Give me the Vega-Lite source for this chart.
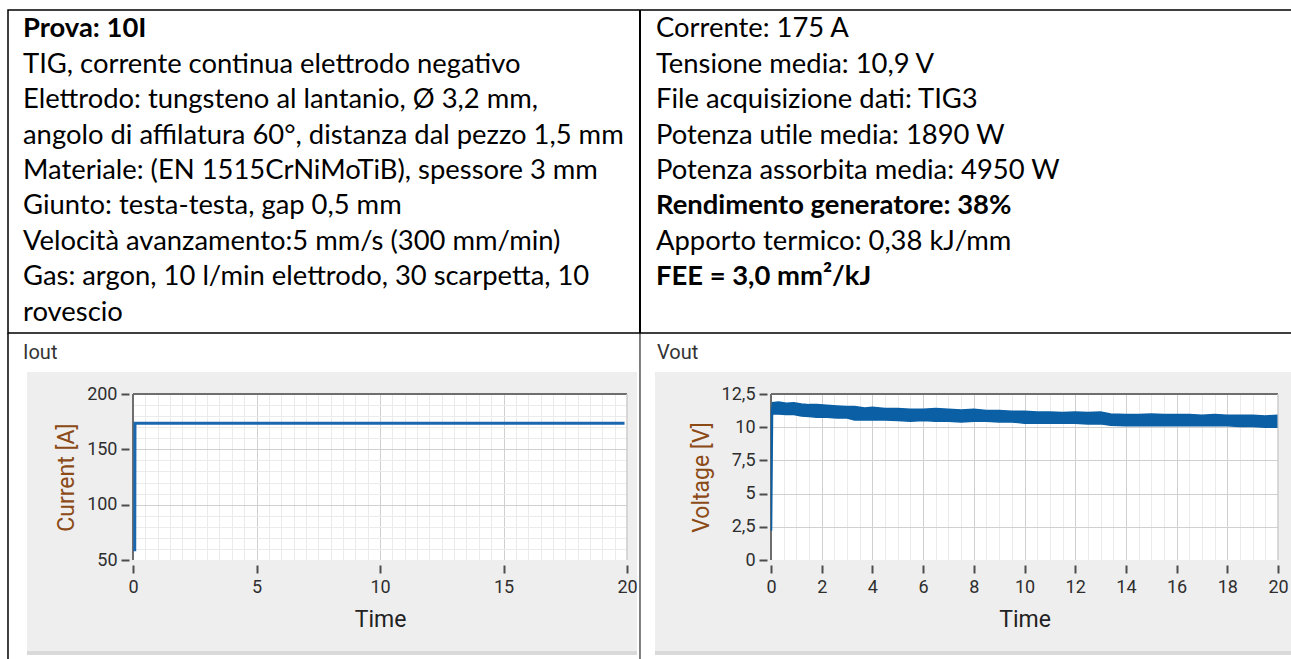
{
  "$schema": "https://vega.github.io/schema/vega-lite/v6.json",
  "autosize": {"type": "none"},
  "padding": {"left": 8, "top": 10, "right": 1283, "bottom": 649},
  "background": "#ffffff",
  "bounds": "flush",
  "spacing": 61,
  "config": {
    "view": {"stroke": null},
    "axis": {"labelFont": "Roboto", "titleFont": "Roboto", "labelColor": "#2e2e2e", "tickColor": "#4d4d4d"}
  },
  "vconcat": [
    {
      "width": 1285,
      "height": 323,
      "view": {"stroke": "#000000", "strokeWidth": 1.5},
      "data": {"values": [
        {"col": 0, "line": 0, "text": "Prova: 10I"},
        {"col": 0, "line": 1, "text": "TIG, corrente continua elettrodo negativo"},
        {"col": 0, "line": 2, "text": "Elettrodo: tungsteno al lantanio, Ø 3,2 mm,"},
        {"col": 0, "line": 3, "text": "angolo di affilatura 60°, distanza dal pezzo 1,5 mm"},
        {"col": 0, "line": 4, "text": "Materiale: (EN 1515CrNiMoTiB), spessore 3 mm"},
        {"col": 0, "line": 5, "text": "Giunto: testa-testa, gap 0,5 mm"},
        {"col": 0, "line": 6, "text": "Velocità avanzamento:5 mm/s (300 mm/min)"},
        {"col": 0, "line": 7, "text": "Gas: argon, 10 l/min elettrodo, 30 scarpetta, 10"},
        {"col": 0, "line": 8, "text": "rovescio"},
        {"col": 1, "line": 0, "text": "Corrente: 175 A"},
        {"col": 1, "line": 1, "text": "Tensione media: 10,9 V"},
        {"col": 1, "line": 2, "text": "File acquisizione dati: TIG3"},
        {"col": 1, "line": 3, "text": "Potenza utile media: 1890 W"},
        {"col": 1, "line": 4, "text": "Potenza assorbita media: 4950 W"},
        {"col": 1, "line": 5, "text": "Rendimento generatore: 38%"},
        {"col": 1, "line": 6, "text": "Apporto termico: 0,38 kJ/mm"},
        {"col": 1, "line": 7, "text": "FEE = 3,0 mm²/kJ"}
      ]},
      "layer": [
        {
          "transform": [{"filter": "!((datum.col == 0 && datum.line == 0) || (datum.col == 1 && (datum.line == 5 || datum.line == 7)))"}],
          "mark": {"type": "text", "align": "left", "baseline": "alphabetic", "font": "Lato", "fontSize": 27.4, "color": "#000000"},
          "encoding": {
            "x": {"field": "col", "type": "quantitative", "scale": {"domain": [0, 1], "range": [15, 648], "nice": false, "zero": false}, "axis": null},
            "y": {"field": "line", "type": "quantitative", "scale": {"domain": [-0.7712, 8.3531], "reverse": true, "nice": false, "zero": false}, "axis": null},
            "text": {"field": "text", "type": "nominal"}
          }
        },
        {
          "transform": [{"filter": "(datum.col == 0 && datum.line == 0) || (datum.col == 1 && (datum.line == 5 || datum.line == 7))"}],
          "mark": {"type": "text", "align": "left", "baseline": "alphabetic", "font": "Lato", "fontSize": 27.4, "fontWeight": "bold", "color": "#000000"},
          "encoding": {
            "x": {"field": "col", "type": "quantitative", "axis": null},
            "y": {"field": "line", "type": "quantitative", "axis": null},
            "text": {"field": "text", "type": "nominal"}
          }
        },
        {
          "data": {"values": [{}]},
          "mark": {"type": "rule", "color": "#000000", "strokeWidth": 2},
          "encoding": {
            "x": {"datum": 0.97472, "type": "quantitative", "axis": null},
            "y": {"datum": -0.7712, "type": "quantitative", "axis": null},
            "y2": {"datum": 8.3531}
          }
        }
      ]
    },
    {
      "hconcat": [
        {"width": 125, "height": 166, "data": {"values": []}, "mark": "point"},
        {
          "width": 494,
          "height": 166,
          "view": {"fill": "#ffffff", "stroke": null},
          "resolve": {"axis": {"x": "independent", "y": "independent"}},
          "layer": [
            {
              "data": {"values": [{}]},
              "mark": {"type": "rect", "color": "#eeeeee"},
              "encoding": {
                "x": {"datum": -4.291, "type": "quantitative", "scale": {"domain": [0, 20], "nice": false, "zero": false},
                  "axis": {"orient": "bottom", "values": [0,0.5,1,1.5,2,2.5,3,3.5,4,4.5,5,5.5,6,6.5,7,7.5,8,8.5,9,9.5,10,10.5,11,11.5,12,12.5,13,13.5,14,14.5,15,15.5,16,16.5,17,17.5,18,18.5,19,19.5,20], "grid": true, "labels": false, "ticks": false, "domain": false, "title": null, "gridWidth": 1, "gridColor": {"condition": {"test": "datum.value % 5 === 0", "value": "#d0d0d0"}, "value": "#ebebeb"}, "zindex": 0}},
                "x2": {"datum": 0},
                "y": {"datum": 219.88, "type": "quantitative", "scale": {"domain": [50, 200], "nice": false, "zero": false},
                  "axis": {"orient": "left", "values": [50,60,70,80,90,100,110,120,130,140,150,160,170,180,190,200], "grid": true, "labels": false, "ticks": false, "domain": false, "title": null, "gridWidth": 1, "gridColor": {"condition": {"test": "datum.value % 50 === 0", "value": "#d0d0d0"}, "value": "#ebebeb"}, "zindex": 0}},
                "y2": {"datum": -32.2}
              }
            },
            {
              "data": {"values": [{}]},
              "mark": {"type": "rect", "color": "#eeeeee"},
              "encoding": {"x": {"datum": 20, "type": "quantitative", "axis": null}, "x2": {"datum": 20.405}, "y": {"datum": 219.88, "type": "quantitative", "axis": null}, "y2": {"datum": -32.2}}
            },
            {
              "data": {"values": [{}]},
              "mark": {"type": "rect", "color": "#eeeeee"},
              "encoding": {"x": {"datum": 0, "type": "quantitative", "axis": null}, "x2": {"datum": 20}, "y": {"datum": 219.88, "type": "quantitative", "axis": null}, "y2": {"datum": 200}}
            },
            {
              "data": {"values": [{}]},
              "mark": {"type": "rect", "color": "#eeeeee"},
              "encoding": {"x": {"datum": 0, "type": "quantitative", "axis": null}, "x2": {"datum": 20}, "y": {"datum": 50, "type": "quantitative", "axis": null}, "y2": {"datum": -32.2}}
            },
            {
              "data": {"values": [{}]},
              "mark": {"type": "rect", "color": "#d9d9d9"},
              "encoding": {"x": {"datum": -4.291, "type": "quantitative", "axis": null}, "x2": {"datum": 20.405}, "y": {"datum": -32.2, "type": "quantitative", "axis": null}, "y2": {"datum": -35.8}}
            },
            {
              "data": {"values": [{}]},
              "mark": {"type": "rule", "color": "#6e6e6e", "strokeWidth": 2},
              "encoding": {"x": {"datum": 0, "type": "quantitative", "axis": null}, "x2": {"datum": 20}, "y": {"datum": 200, "type": "quantitative", "axis": null}}
            },
            {
              "data": {"values": [{}]},
              "mark": {"type": "rule", "color": "#6e6e6e", "strokeWidth": 2},
              "encoding": {"x": {"datum": 0, "type": "quantitative", "axis": null}, "y": {"datum": 50, "type": "quantitative", "axis": null}, "y2": {"datum": 200}}
            },
            {
              "data": {"values": [{}]},
              "mark": {"type": "rule", "color": "#cccccc", "strokeWidth": 1.5},
              "encoding": {"x": {"datum": 20, "type": "quantitative", "axis": null}, "y": {"datum": 50, "type": "quantitative", "axis": null}, "y2": {"datum": 200}}
            },
            {
              "data": {"values": [{}]},
              "mark": {"type": "rule", "color": "#000000", "strokeWidth": 1.5},
              "encoding": {"x": {"datum": -5.061, "type": "quantitative", "axis": null}, "y": {"datum": 255.12, "type": "quantitative", "axis": null}, "y2": {"datum": -42.2}}
            },
            {
              "data": {"values": [{}]},
              "mark": {"type": "rule", "color": "#000000", "strokeWidth": 1},
              "encoding": {"x": {"datum": 20.526, "type": "quantitative", "axis": null}, "y": {"datum": 255.12, "type": "quantitative", "axis": null}, "y2": {"datum": -42.2}}
            },
            {
              "data": {"values": [{}]},
              "mark": {"type": "text", "align": "left", "baseline": "alphabetic", "font": "Roboto", "fontSize": 20, "color": "#333333"},
              "encoding": {"x": {"datum": -4.453, "type": "quantitative", "axis": null}, "y": {"datum": 231.6, "type": "quantitative", "axis": null}, "text": {"value": "Iout"}}
            },
            {
              "data": {"values": [{"t": 0.07, "I": 58}, {"t": 0.08, "I": 173.5}, {"t": 19.9, "I": 173.5}]},
              "mark": {"type": "line", "color": "#1c68ae", "strokeWidth": 3},
              "encoding": {
                "x": {"field": "t", "type": "quantitative", "scale": {"domain": [0, 20], "nice": false, "zero": false},
                  "axis": {"orient": "bottom", "values": [0, 5, 10, 15, 20], "grid": false, "domain": false, "tickSize": 8, "tickWidth": 2, "offset": 5, "labelPadding": 5, "labelFontSize": 18, "labelFlush": false, "labelOverlap": false, "title": "Time", "titleFontSize": 23, "titleFontWeight": "normal", "titleColor": "#222222", "titlePadding": 12, "zindex": 1}},
                "y": {"field": "I", "type": "quantitative", "scale": {"domain": [50, 200], "nice": false, "zero": false},
                  "axis": {"orient": "left", "values": [50, 100, 150, 200], "grid": false, "domain": false, "tickSize": 8, "tickWidth": 2, "offset": 4, "labelPadding": 4, "labelFontSize": 18, "labelOverlap": false, "title": "Current [A]", "titleFontSize": 23, "titleFontWeight": "normal", "titleColor": "#8b4a16", "titlePadding": 8, "zindex": 1}}
              }
            }
          ]
        },
        {"width": 144, "height": 166, "data": {"values": []}, "mark": "point"},
        {
          "width": 507,
          "height": 166,
          "view": {"fill": "#ffffff", "stroke": null},
          "resolve": {"axis": {"x": "independent", "y": "independent"}},
          "layer": [
            {
              "data": {"values": [{}]},
              "mark": {"type": "rect", "color": "#eeeeee"},
              "encoding": {
                "x": {"datum": -4.576, "type": "quantitative", "scale": {"domain": [0, 20], "nice": false, "zero": false},
                  "axis": {"orient": "bottom", "values": [0,0.5,1,1.5,2,2.5,3,3.5,4,4.5,5,5.5,6,6.5,7,7.5,8,8.5,9,9.5,10,10.5,11,11.5,12,12.5,13,13.5,14,14.5,15,15.5,16,16.5,17,17.5,18,18.5,19,19.5,20], "grid": true, "labels": false, "ticks": false, "domain": false, "title": null, "gridWidth": 1, "gridColor": {"condition": {"test": "datum.value % 2 === 0", "value": "#d0d0d0"}, "value": "#ebebeb"}, "zindex": 0}},
                "x2": {"datum": 0},
                "y": {"datum": 14.157, "type": "quantitative", "scale": {"domain": [0, 12.5], "nice": false, "zero": false},
                  "axis": {"orient": "left", "values": [0, 2.5, 5, 7.5, 10, 12.5], "grid": true, "labels": false, "ticks": false, "domain": false, "title": null, "gridWidth": 1, "gridColor": "#d0d0d0", "zindex": 0}},
                "y2": {"datum": -6.853}
              }
            },
            {
              "data": {"values": [{}]},
              "mark": {"type": "rect", "color": "#eeeeee"},
              "encoding": {"x": {"datum": 20, "type": "quantitative", "axis": null}, "x2": {"datum": 20.868}, "y": {"datum": 14.157, "type": "quantitative", "axis": null}, "y2": {"datum": -6.853}}
            },
            {
              "data": {"values": [{}]},
              "mark": {"type": "rect", "color": "#eeeeee"},
              "encoding": {"x": {"datum": 0, "type": "quantitative", "axis": null}, "x2": {"datum": 20}, "y": {"datum": 14.157, "type": "quantitative", "axis": null}, "y2": {"datum": 12.5}}
            },
            {
              "data": {"values": [{}]},
              "mark": {"type": "rect", "color": "#eeeeee"},
              "encoding": {"x": {"datum": 0, "type": "quantitative", "axis": null}, "x2": {"datum": 20}, "y": {"datum": 0, "type": "quantitative", "axis": null}, "y2": {"datum": -6.853}}
            },
            {
              "data": {"values": [{}]},
              "mark": {"type": "rect", "color": "#d9d9d9"},
              "encoding": {"x": {"datum": -4.576, "type": "quantitative", "axis": null}, "x2": {"datum": 20.868}, "y": {"datum": -6.853, "type": "quantitative", "axis": null}, "y2": {"datum": -7.154}}
            },
            {
              "data": {"values": [{}]},
              "mark": {"type": "rule", "color": "#6e6e6e", "strokeWidth": 2},
              "encoding": {"x": {"datum": 0, "type": "quantitative", "axis": null}, "x2": {"datum": 20}, "y": {"datum": 12.5, "type": "quantitative", "axis": null}}
            },
            {
              "data": {"values": [{}]},
              "mark": {"type": "rule", "color": "#6e6e6e", "strokeWidth": 2},
              "encoding": {"x": {"datum": 0, "type": "quantitative", "axis": null}, "y": {"datum": 0, "type": "quantitative", "axis": null}, "y2": {"datum": 12.5}}
            },
            {
              "data": {"values": [{}]},
              "mark": {"type": "rule", "color": "#cccccc", "strokeWidth": 1.5},
              "encoding": {"x": {"datum": 20, "type": "quantitative", "axis": null}, "y": {"datum": 0, "type": "quantitative", "axis": null}, "y2": {"datum": 12.5}}
            },
            {
              "data": {"values": [{}]},
              "mark": {"type": "text", "align": "left", "baseline": "alphabetic", "font": "Roboto", "fontSize": 20, "color": "#333333"},
              "encoding": {"x": {"datum": -4.497, "type": "quantitative", "axis": null}, "y": {"datum": 15.136, "type": "quantitative", "axis": null}, "text": {"value": "Vout"}}
            },
            {
              "data": {"values": [
                {"t": 0.02, "lo": 2.2, "hi": 11.2},
                {"t": 0.06, "lo": 11.0, "hi": 11.85},
                {"t": 0.3, "lo": 11.0, "hi": 11.9},
                {"t": 0.6, "lo": 10.95, "hi": 11.8},
                {"t": 0.9, "lo": 10.95, "hi": 11.85},
                {"t": 1.2, "lo": 10.85, "hi": 11.75},
                {"t": 1.5, "lo": 10.8, "hi": 11.7},
                {"t": 1.8, "lo": 10.75, "hi": 11.7},
                {"t": 2.2, "lo": 10.75, "hi": 11.65},
                {"t": 2.6, "lo": 10.7, "hi": 11.6},
                {"t": 3.0, "lo": 10.7, "hi": 11.55},
                {"t": 3.3, "lo": 10.55, "hi": 11.55},
                {"t": 3.7, "lo": 10.55, "hi": 11.45},
                {"t": 4.0, "lo": 10.55, "hi": 11.5},
                {"t": 4.5, "lo": 10.55, "hi": 11.4},
                {"t": 5.0, "lo": 10.5, "hi": 11.4},
                {"t": 5.5, "lo": 10.45, "hi": 11.35},
                {"t": 6.0, "lo": 10.5, "hi": 11.35},
                {"t": 6.5, "lo": 10.45, "hi": 11.4},
                {"t": 7.0, "lo": 10.45, "hi": 11.35},
                {"t": 7.5, "lo": 10.4, "hi": 11.3},
                {"t": 8.0, "lo": 10.45, "hi": 11.35},
                {"t": 8.5, "lo": 10.45, "hi": 11.25},
                {"t": 9.0, "lo": 10.4, "hi": 11.25},
                {"t": 9.5, "lo": 10.4, "hi": 11.2},
                {"t": 10.0, "lo": 10.3, "hi": 11.2},
                {"t": 10.5, "lo": 10.3, "hi": 11.15},
                {"t": 11.0, "lo": 10.3, "hi": 11.15},
                {"t": 11.5, "lo": 10.3, "hi": 11.1},
                {"t": 12.0, "lo": 10.3, "hi": 11.15},
                {"t": 12.5, "lo": 10.25, "hi": 11.1},
                {"t": 13.0, "lo": 10.25, "hi": 11.15},
                {"t": 13.4, "lo": 10.15, "hi": 11.0},
                {"t": 14.0, "lo": 10.1, "hi": 10.95},
                {"t": 14.5, "lo": 10.1, "hi": 10.95},
                {"t": 15.0, "lo": 10.1, "hi": 11.0},
                {"t": 15.5, "lo": 10.1, "hi": 10.95},
                {"t": 16.0, "lo": 10.1, "hi": 10.95},
                {"t": 16.5, "lo": 10.1, "hi": 10.95},
                {"t": 17.0, "lo": 10.1, "hi": 10.9},
                {"t": 17.5, "lo": 10.1, "hi": 10.95},
                {"t": 18.0, "lo": 10.1, "hi": 10.9},
                {"t": 18.5, "lo": 10.05, "hi": 10.9},
                {"t": 19.0, "lo": 10.05, "hi": 10.9},
                {"t": 19.5, "lo": 10.0, "hi": 10.85},
                {"t": 19.95, "lo": 10.0, "hi": 10.9}
              ]},
              "mark": {"type": "area", "color": "#0b5fa5", "stroke": "#0b5fa5", "strokeWidth": 1.5, "opacity": 1},
              "encoding": {
                "x": {"field": "t", "type": "quantitative", "scale": {"domain": [0, 20], "nice": false, "zero": false},
                  "axis": {"orient": "bottom", "values": [0, 2, 4, 6, 8, 10, 12, 14, 16, 18, 20], "grid": false, "domain": false, "tickSize": 8, "tickWidth": 2, "offset": 5, "labelPadding": 5, "labelFontSize": 18, "labelFlush": false, "labelOverlap": false, "title": "Time", "titleFontSize": 23, "titleFontWeight": "normal", "titleColor": "#222222", "titlePadding": 12, "zindex": 1}},
                "y": {"field": "hi", "type": "quantitative", "scale": {"domain": [0, 12.5], "nice": false, "zero": false},
                  "axis": {"orient": "left", "values": [0, 2.5, 5, 7.5, 10, 12.5], "format": ".1~f", "labelExpr": "replace(datum.label, '.', ',')", "grid": false, "domain": false, "tickSize": 8, "tickWidth": 2, "offset": 4, "labelPadding": 4, "labelFontSize": 18, "labelOverlap": false, "title": "Voltage [V]", "titleFontSize": 23, "titleFontWeight": "normal", "titleColor": "#8b4a16", "titlePadding": 8, "zindex": 1}},
                "y2": {"field": "lo"}
              }
            }
          ]
        }
      ],
      "spacing": 0,
      "bounds": "flush"
    }
  ]
}
